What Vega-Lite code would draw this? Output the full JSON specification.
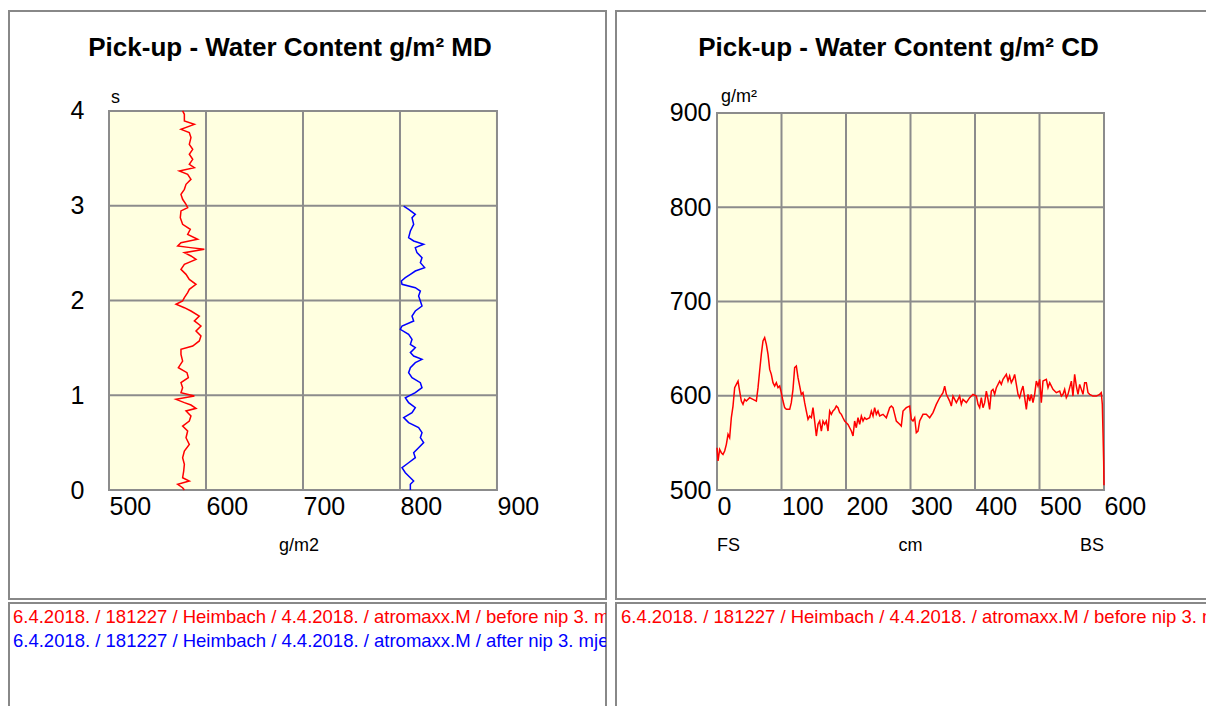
{
  "$schema": "https://vega.github.io/schema/vega-lite/v6.json",
  "padding": {"left": 8, "top": 10, "right": 0, "bottom": 0},
  "background": "white",
  "config": {
    "font": "Liberation Sans",
    "view": {"stroke": "#888888", "strokeWidth": 2, "fill": "white"},
    "axis": {"labelFont": "Liberation Sans", "labelFontSize": 25, "labelColor": "#000000", "ticks": false, "domain": false, "grid": false, "labelOverlap": false, "labelFlush": false, "labelBound": false, "zindex": 1}
  },
  "datasets": {
    "md": [
      {"series":"before","t":4.000,"gsm":575.9},{"series":"before","t":3.965,"gsm":577.7},{"series":"before","t":3.894,"gsm":577.7},{"series":"before","t":3.859,"gsm":588.0},{"series":"before","t":3.806,"gsm":574.2},{"series":"before","t":3.771,"gsm":582.8},{"series":"before","t":3.719,"gsm":584.5},{"series":"before","t":3.648,"gsm":582.8},{"series":"before","t":3.595,"gsm":586.3},{"series":"before","t":3.543,"gsm":582.8},{"series":"before","t":3.490,"gsm":586.3},{"series":"before","t":3.437,"gsm":582.8},{"series":"before","t":3.402,"gsm":588.0},{"series":"before","t":3.367,"gsm":572.5},{"series":"before","t":3.332,"gsm":581.1},{"series":"before","t":3.279,"gsm":584.5},{"series":"before","t":3.226,"gsm":579.4},{"series":"before","t":3.173,"gsm":577.7},{"series":"before","t":3.120,"gsm":574.2},{"series":"before","t":3.068,"gsm":575.9},{"series":"before","t":3.015,"gsm":579.4},{"series":"before","t":2.980,"gsm":581.1},{"series":"before","t":2.945,"gsm":574.2},{"series":"before","t":2.874,"gsm":573.5},{"series":"before","t":2.804,"gsm":575.9},{"series":"before","t":2.751,"gsm":583.8},{"series":"before","t":2.698,"gsm":581.1},{"series":"before","t":2.646,"gsm":591.4},{"series":"before","t":2.610,"gsm":574.2},{"series":"before","t":2.575,"gsm":570.8},{"series":"before","t":2.558,"gsm":583.8},{"series":"before","t":2.540,"gsm":598.3},{"series":"before","t":2.505,"gsm":577.7},{"series":"before","t":2.470,"gsm":584.5},{"series":"before","t":2.434,"gsm":589.7},{"series":"before","t":2.382,"gsm":577.7},{"series":"before","t":2.329,"gsm":574.2},{"series":"before","t":2.276,"gsm":579.4},{"series":"before","t":2.223,"gsm":582.8},{"series":"before","t":2.171,"gsm":589.7},{"series":"before","t":2.118,"gsm":582.8},{"series":"before","t":2.083,"gsm":581.1},{"series":"before","t":2.030,"gsm":577.7},{"series":"before","t":1.995,"gsm":575.9},{"series":"before","t":1.960,"gsm":569.1},{"series":"before","t":1.924,"gsm":577.7},{"series":"before","t":1.889,"gsm":584.5},{"series":"before","t":1.836,"gsm":593.1},{"series":"before","t":1.784,"gsm":588.0},{"series":"before","t":1.731,"gsm":594.8},{"series":"before","t":1.678,"gsm":589.7},{"series":"before","t":1.625,"gsm":594.8},{"series":"before","t":1.573,"gsm":593.1},{"series":"before","t":1.520,"gsm":586.3},{"series":"before","t":1.485,"gsm":574.2},{"series":"before","t":1.432,"gsm":574.2},{"series":"before","t":1.361,"gsm":575.9},{"series":"before","t":1.291,"gsm":571.5},{"series":"before","t":1.238,"gsm":580.4},{"series":"before","t":1.186,"gsm":581.8},{"series":"before","t":1.133,"gsm":574.2},{"series":"before","t":1.080,"gsm":575.9},{"series":"before","t":1.027,"gsm":574.2},{"series":"before","t":0.992,"gsm":588.0},{"series":"before","t":0.957,"gsm":569.1},{"series":"before","t":0.922,"gsm":577.7},{"series":"before","t":0.897,"gsm":584.5},{"series":"before","t":0.862,"gsm":589.7},{"series":"before","t":0.834,"gsm":579.4},{"series":"before","t":0.781,"gsm":584.5},{"series":"before","t":0.728,"gsm":582.8},{"series":"before","t":0.675,"gsm":575.9},{"series":"before","t":0.623,"gsm":581.1},{"series":"before","t":0.552,"gsm":579.4},{"series":"before","t":0.482,"gsm":582.8},{"series":"before","t":0.412,"gsm":577.7},{"series":"before","t":0.341,"gsm":575.9},{"series":"before","t":0.271,"gsm":577.7},{"series":"before","t":0.200,"gsm":577.0},{"series":"before","t":0.130,"gsm":575.9},{"series":"before","t":0.095,"gsm":582.8},{"series":"before","t":0.060,"gsm":570.8},{"series":"before","t":0.024,"gsm":575.9},{"series":"before","t":0.000,"gsm":577.7},
      {"series":"after","t":2.997,"gsm":803.8},{"series":"after","t":2.962,"gsm":808.9},{"series":"after","t":2.909,"gsm":815.8},{"series":"after","t":2.874,"gsm":812.4},{"series":"after","t":2.804,"gsm":814.1},{"series":"after","t":2.734,"gsm":810.7},{"series":"after","t":2.663,"gsm":808.9},{"series":"after","t":2.628,"gsm":814.1},{"series":"after","t":2.593,"gsm":824.4},{"series":"after","t":2.558,"gsm":815.8},{"series":"after","t":2.505,"gsm":817.5},{"series":"after","t":2.452,"gsm":822.7},{"series":"after","t":2.399,"gsm":821.0},{"series":"after","t":2.347,"gsm":825.4},{"series":"after","t":2.311,"gsm":815.8},{"series":"after","t":2.276,"gsm":810.7},{"series":"after","t":2.241,"gsm":805.5},{"series":"after","t":2.206,"gsm":801.4},{"series":"after","t":2.171,"gsm":802.1},{"series":"after","t":2.135,"gsm":815.8},{"series":"after","t":2.100,"gsm":821.0},{"series":"after","t":2.048,"gsm":819.2},{"series":"after","t":1.995,"gsm":821.0},{"series":"after","t":1.942,"gsm":822.7},{"series":"after","t":1.889,"gsm":815.8},{"series":"after","t":1.836,"gsm":812.4},{"series":"after","t":1.784,"gsm":814.1},{"series":"after","t":1.731,"gsm":802.1},{"series":"after","t":1.696,"gsm":800.3},{"series":"after","t":1.643,"gsm":808.9},{"series":"after","t":1.590,"gsm":812.4},{"series":"after","t":1.537,"gsm":810.7},{"series":"after","t":1.502,"gsm":815.8},{"series":"after","t":1.450,"gsm":810.7},{"series":"after","t":1.414,"gsm":814.1},{"series":"after","t":1.379,"gsm":822.7},{"series":"after","t":1.344,"gsm":815.8},{"series":"after","t":1.291,"gsm":810.7},{"series":"after","t":1.238,"gsm":808.9},{"series":"after","t":1.186,"gsm":812.4},{"series":"after","t":1.133,"gsm":821.0},{"series":"after","t":1.080,"gsm":822.7},{"series":"after","t":1.027,"gsm":815.8},{"series":"after","t":0.974,"gsm":805.5},{"series":"after","t":0.922,"gsm":808.9},{"series":"after","t":0.869,"gsm":815.8},{"series":"after","t":0.816,"gsm":812.4},{"series":"after","t":0.764,"gsm":803.8},{"series":"after","t":0.711,"gsm":808.9},{"series":"after","t":0.658,"gsm":819.2},{"series":"after","t":0.605,"gsm":822.7},{"series":"after","t":0.552,"gsm":821.0},{"series":"after","t":0.500,"gsm":824.4},{"series":"after","t":0.447,"gsm":819.2},{"series":"after","t":0.394,"gsm":814.1},{"series":"after","t":0.341,"gsm":815.8},{"series":"after","t":0.288,"gsm":808.9},{"series":"after","t":0.236,"gsm":802.1},{"series":"after","t":0.183,"gsm":805.5},{"series":"after","t":0.130,"gsm":810.7},{"series":"after","t":0.095,"gsm":814.1},{"series":"after","t":0.060,"gsm":810.7},{"series":"after","t":0.000,"gsm":810.7}
    ],
    "cd": [
      {"series":"before","cm":0,"gsm":544.9},{"series":"before","cm":1.6,"gsm":530.8},{"series":"before","cm":4.1,"gsm":543.1},{"series":"before","cm":6.7,"gsm":539.6},{"series":"before","cm":9.3,"gsm":537.8},{"series":"before","cm":11.9,"gsm":541.4},{"series":"before","cm":14.5,"gsm":548.5},{"series":"before","cm":17.1,"gsm":559.1},{"series":"before","cm":19.6,"gsm":555.5},{"series":"before","cm":22.2,"gsm":576.7},{"series":"before","cm":24.8,"gsm":589.1},{"series":"before","cm":27.4,"gsm":608.6},{"series":"before","cm":30.0,"gsm":612.1},{"series":"before","cm":32.6,"gsm":615.6},{"series":"before","cm":35.1,"gsm":605.0},{"series":"before","cm":37.7,"gsm":594.4},{"series":"before","cm":40.3,"gsm":590.9},{"series":"before","cm":42.9,"gsm":596.2},{"series":"before","cm":45.5,"gsm":594.4},{"series":"before","cm":50.6,"gsm":598.0},{"series":"before","cm":55.8,"gsm":596.2},{"series":"before","cm":61.0,"gsm":594.4},{"series":"before","cm":63.6,"gsm":608.6},{"series":"before","cm":66.1,"gsm":626.3},{"series":"before","cm":68.7,"gsm":643.9},{"series":"before","cm":71.3,"gsm":658.1},{"series":"before","cm":73.9,"gsm":661.6},{"series":"before","cm":76.5,"gsm":654.6},{"series":"before","cm":79.1,"gsm":643.9},{"series":"before","cm":81.7,"gsm":628.0},{"series":"before","cm":84.2,"gsm":622.7},{"series":"before","cm":86.8,"gsm":613.9},{"series":"before","cm":89.4,"gsm":610.3},{"series":"before","cm":92.0,"gsm":613.9},{"series":"before","cm":94.6,"gsm":608.6},{"series":"before","cm":97.2,"gsm":610.3},{"series":"before","cm":99.7,"gsm":603.3},{"series":"before","cm":102.3,"gsm":594.4},{"series":"before","cm":104.9,"gsm":587.4},{"series":"before","cm":107.5,"gsm":585.6},{"series":"before","cm":112.7,"gsm":585.6},{"series":"before","cm":115.2,"gsm":592.7},{"series":"before","cm":117.8,"gsm":606.8},{"series":"before","cm":120.4,"gsm":629.8},{"series":"before","cm":123.0,"gsm":631.6},{"series":"before","cm":125.6,"gsm":619.2},{"series":"before","cm":128.2,"gsm":610.3},{"series":"before","cm":130.7,"gsm":601.5},{"series":"before","cm":133.3,"gsm":603.3},{"series":"before","cm":135.9,"gsm":592.7},{"series":"before","cm":138.5,"gsm":583.8},{"series":"before","cm":141.1,"gsm":575.0},{"series":"before","cm":143.7,"gsm":578.5},{"series":"before","cm":146.3,"gsm":576.7},{"series":"before","cm":148.8,"gsm":587.4},{"series":"before","cm":151.4,"gsm":573.2},{"series":"before","cm":154.0,"gsm":557.3},{"series":"before","cm":156.6,"gsm":569.7},{"series":"before","cm":159.2,"gsm":573.2},{"series":"before","cm":161.8,"gsm":562.6},{"series":"before","cm":164.3,"gsm":573.2},{"series":"before","cm":166.9,"gsm":569.7},{"series":"before","cm":169.5,"gsm":573.2},{"series":"before","cm":172.1,"gsm":562.6},{"series":"before","cm":174.7,"gsm":583.8},{"series":"before","cm":177.3,"gsm":580.3},{"series":"before","cm":179.8,"gsm":583.8},{"series":"before","cm":182.4,"gsm":585.6},{"series":"before","cm":185.0,"gsm":589.1},{"series":"before","cm":187.6,"gsm":587.4},{"series":"before","cm":190.2,"gsm":582.1},{"series":"before","cm":192.8,"gsm":580.3},{"series":"before","cm":195.3,"gsm":576.7},{"series":"before","cm":197.9,"gsm":573.2},{"series":"before","cm":200.5,"gsm":571.4},{"series":"before","cm":203.1,"gsm":569.7},{"series":"before","cm":205.7,"gsm":566.1},{"series":"before","cm":208.3,"gsm":562.6},{"series":"before","cm":210.9,"gsm":557.3},{"series":"before","cm":213.4,"gsm":573.2},{"series":"before","cm":216.0,"gsm":566.1},{"series":"before","cm":218.6,"gsm":576.7},{"series":"before","cm":221.2,"gsm":569.7},{"series":"before","cm":223.8,"gsm":578.5},{"series":"before","cm":226.4,"gsm":573.2},{"series":"before","cm":228.9,"gsm":576.7},{"series":"before","cm":231.5,"gsm":575.0},{"series":"before","cm":236.7,"gsm":576.7},{"series":"before","cm":239.3,"gsm":583.8},{"series":"before","cm":241.9,"gsm":578.5},{"series":"before","cm":244.4,"gsm":587.4},{"series":"before","cm":247.0,"gsm":580.3},{"series":"before","cm":249.6,"gsm":583.8},{"series":"before","cm":252.2,"gsm":578.5},{"series":"before","cm":257.4,"gsm":580.3},{"series":"before","cm":262.5,"gsm":576.7},{"series":"before","cm":267.7,"gsm":587.4},{"series":"before","cm":270.3,"gsm":589.1},{"series":"before","cm":272.9,"gsm":587.4},{"series":"before","cm":275.5,"gsm":580.3},{"series":"before","cm":278.0,"gsm":573.2},{"series":"before","cm":283.2,"gsm":569.7},{"series":"before","cm":285.7,"gsm":567.9},{"series":"before","cm":288.4,"gsm":583.8},{"series":"before","cm":293.5,"gsm":587.4},{"series":"before","cm":298.7,"gsm":589.1},{"series":"before","cm":301.3,"gsm":575.0},{"series":"before","cm":303.9,"gsm":573.2},{"series":"before","cm":306.5,"gsm":576.7},{"series":"before","cm":309.0,"gsm":560.8},{"series":"before","cm":311.6,"gsm":562.6},{"series":"before","cm":314.2,"gsm":573.2},{"series":"before","cm":319.4,"gsm":580.3},{"series":"before","cm":324.5,"gsm":580.3},{"series":"before","cm":329.7,"gsm":576.7},{"series":"before","cm":334.9,"gsm":582.1},{"series":"before","cm":340.0,"gsm":590.9},{"series":"before","cm":345.2,"gsm":597.9},{"series":"before","cm":350.4,"gsm":603.3},{"series":"before","cm":353.0,"gsm":610.3},{"series":"before","cm":355.6,"gsm":601.5},{"series":"before","cm":360.7,"gsm":594.4},{"series":"before","cm":363.3,"gsm":589.1},{"series":"before","cm":365.9,"gsm":599.7},{"series":"before","cm":371.1,"gsm":592.7},{"series":"before","cm":376.2,"gsm":599.7},{"series":"before","cm":378.8,"gsm":590.9},{"series":"before","cm":381.4,"gsm":596.2},{"series":"before","cm":386.6,"gsm":592.7},{"series":"before","cm":391.7,"gsm":598.0},{"series":"before","cm":396.9,"gsm":601.5},{"series":"before","cm":402.1,"gsm":599.7},{"series":"before","cm":404.7,"gsm":590.9},{"series":"before","cm":407.2,"gsm":587.4},{"series":"before","cm":409.8,"gsm":598.0},{"series":"before","cm":412.4,"gsm":587.4},{"series":"before","cm":415.0,"gsm":592.7},{"series":"before","cm":417.6,"gsm":605.0},{"series":"before","cm":420.2,"gsm":596.2},{"series":"before","cm":422.7,"gsm":585.6},{"series":"before","cm":425.3,"gsm":605.0},{"series":"before","cm":427.9,"gsm":606.8},{"series":"before","cm":430.5,"gsm":601.5},{"series":"before","cm":433.1,"gsm":608.6},{"series":"before","cm":438.2,"gsm":615.6},{"series":"before","cm":440.8,"gsm":612.1},{"series":"before","cm":443.4,"gsm":617.4},{"series":"before","cm":448.6,"gsm":622.7},{"series":"before","cm":451.2,"gsm":615.6},{"series":"before","cm":453.7,"gsm":620.9},{"series":"before","cm":456.3,"gsm":613.9},{"series":"before","cm":458.9,"gsm":617.4},{"series":"before","cm":461.5,"gsm":622.7},{"series":"before","cm":464.1,"gsm":612.1},{"series":"before","cm":466.7,"gsm":601.5},{"series":"before","cm":469.2,"gsm":598.0},{"series":"before","cm":471.8,"gsm":605.0},{"series":"before","cm":474.4,"gsm":610.3},{"series":"before","cm":477.0,"gsm":598.0},{"series":"before","cm":479.6,"gsm":585.6},{"series":"before","cm":482.2,"gsm":601.5},{"series":"before","cm":484.8,"gsm":594.4},{"series":"before","cm":487.3,"gsm":601.5},{"series":"before","cm":489.9,"gsm":592.7},{"series":"before","cm":492.5,"gsm":601.5},{"series":"before","cm":495.1,"gsm":615.6},{"series":"before","cm":497.7,"gsm":610.3},{"series":"before","cm":500.3,"gsm":617.4},{"series":"before","cm":502.8,"gsm":592.7},{"series":"before","cm":505.4,"gsm":615.6},{"series":"before","cm":510.6,"gsm":617.4},{"series":"before","cm":513.2,"gsm":608.6},{"series":"before","cm":515.8,"gsm":613.9},{"series":"before","cm":520.9,"gsm":606.8},{"series":"before","cm":526.1,"gsm":603.3},{"series":"before","cm":531.3,"gsm":605.0},{"series":"before","cm":533.9,"gsm":599.7},{"series":"before","cm":536.4,"gsm":601.5},{"series":"before","cm":539.0,"gsm":606.8},{"series":"before","cm":541.6,"gsm":598.0},{"series":"before","cm":544.2,"gsm":601.5},{"series":"before","cm":546.8,"gsm":608.6},{"series":"before","cm":549.4,"gsm":615.6},{"series":"before","cm":551.9,"gsm":599.7},{"series":"before","cm":554.5,"gsm":622.7},{"series":"before","cm":557.1,"gsm":610.3},{"series":"before","cm":559.7,"gsm":601.5},{"series":"before","cm":562.3,"gsm":612.1},{"series":"before","cm":564.9,"gsm":606.8},{"series":"before","cm":567.4,"gsm":601.5},{"series":"before","cm":570.0,"gsm":613.9},{"series":"before","cm":572.6,"gsm":613.9},{"series":"before","cm":575.2,"gsm":603.3},{"series":"before","cm":577.8,"gsm":601.5},{"series":"before","cm":582.9,"gsm":599.7},{"series":"before","cm":588.1,"gsm":599.7},{"series":"before","cm":593.3,"gsm":601.5},{"series":"before","cm":595.8,"gsm":603.3},{"series":"before","cm":597.4,"gsm":590.9},{"series":"before","cm":598.5,"gsm":560.0},{"series":"before","cm":599.5,"gsm":530.0},{"series":"before","cm":600.0,"gsm":505.0}
    ]
  },
  "spacing": 8,
  "hconcat": [
    {
      "spacing": 2,
      "vconcat": [
        {
          "width": 597,
          "height": 588,
          "layer": [
            {
              "data": {"values": [{}]},
              "mark": {"type": "rect", "fill": "#FFFFE0", "stroke": "#8c8c8c", "strokeWidth": 2},
              "encoding": {
                "x": {"datum": 500, "type": "quantitative", "scale": {"domain": [396.9, 1012.4], "nice": false, "zero": false}, "axis": {"values": [500, 600, 700, 800, 900], "orient": "bottom", "offset": -109, "labelPadding": 4, "labelAlign": "left", "labelDx": 4, "title": null}},
                "x2": {"datum": 900},
                "y": {"datum": 0, "type": "quantitative", "scale": {"domain": [-1.150, 5.055], "nice": false, "zero": false}, "axis": {"values": [0, 1, 2, 3, 4], "orient": "left", "offset": -100, "labelPadding": 25, "labelDy": 5, "title": null}},
                "y2": {"datum": 4}
              }
            },
            {
              "data": {"values": [{"v": 600}, {"v": 700}, {"v": 800}]},
              "mark": {"type": "rule", "stroke": "#8c8c8c", "strokeWidth": 2},
              "encoding": {
                "x": {"field": "v", "type": "quantitative", "scale": {"domain": [396.9, 1012.4], "nice": false, "zero": false}, "axis": {"values": [500, 600, 700, 800, 900], "orient": "bottom", "offset": -109, "labelPadding": 4, "labelAlign": "left", "labelDx": 4, "title": null}},
                "y": {"datum": 0, "type": "quantitative", "scale": {"domain": [-1.150, 5.055], "nice": false, "zero": false}, "axis": {"values": [0, 1, 2, 3, 4], "orient": "left", "offset": -100, "labelPadding": 25, "labelDy": 5, "title": null}},
                "y2": {"datum": 4}
              }
            },
            {
              "data": {"values": [{"v": 1}, {"v": 2}, {"v": 3}]},
              "mark": {"type": "rule", "stroke": "#8c8c8c", "strokeWidth": 2},
              "encoding": {
                "y": {"field": "v", "type": "quantitative", "scale": {"domain": [-1.150, 5.055], "nice": false, "zero": false}, "axis": {"values": [0, 1, 2, 3, 4], "orient": "left", "offset": -100, "labelPadding": 25, "labelDy": 5, "title": null}},
                "x": {"datum": 500, "type": "quantitative", "scale": {"domain": [396.9, 1012.4], "nice": false, "zero": false}, "axis": {"values": [500, 600, 700, 800, 900], "orient": "bottom", "offset": -109, "labelPadding": 4, "labelAlign": "left", "labelDx": 4, "title": null}},
                "x2": {"datum": 900}
              }
            },
            {
              "data": {"name": "md"},
              "mark": {"type": "line", "strokeWidth": 1.5},
              "encoding": {
                "x": {"field": "gsm", "type": "quantitative", "scale": {"domain": [396.9, 1012.4], "nice": false, "zero": false}, "axis": {"values": [500, 600, 700, 800, 900], "orient": "bottom", "offset": -109, "labelPadding": 4, "labelAlign": "left", "labelDx": 4, "title": null}},
                "y": {"field": "t", "type": "quantitative", "scale": {"domain": [-1.150, 5.055], "nice": false, "zero": false}, "axis": {"values": [0, 1, 2, 3, 4], "orient": "left", "offset": -100, "labelPadding": 25, "labelDy": 5, "title": null}},
                "order": {"field": "t", "type": "quantitative"},
                "color": {"field": "series", "type": "nominal", "scale": {"domain": ["before", "after"], "range": ["#ff0000", "#0000ff"]}, "legend": null}
              }
            },
            {
              "data": {"values": [{}]},
              "mark": {"type": "text", "text": "Pick-up - Water Content g/m² MD", "fontSize": 26, "fontWeight": "bold", "color": "#000000", "align": "center", "baseline": "alphabetic", "dx": -13, "dy": -55},
              "encoding": {
                "x": {"datum": 700, "type": "quantitative", "scale": {"domain": [396.9, 1012.4], "nice": false, "zero": false}, "axis": {"values": [500, 600, 700, 800, 900], "orient": "bottom", "offset": -109, "labelPadding": 4, "labelAlign": "left", "labelDx": 4, "title": null}},
                "y": {"datum": 4, "type": "quantitative", "scale": {"domain": [-1.150, 5.055], "nice": false, "zero": false}, "axis": {"values": [0, 1, 2, 3, 4], "orient": "left", "offset": -100, "labelPadding": 25, "labelDy": 5, "title": null}}
              }
            },
            {
              "data": {"values": [{}]},
              "mark": {"type": "text", "text": "s", "fontSize": 18, "color": "#000000", "align": "left", "baseline": "alphabetic", "dx": 2, "dy": -8},
              "encoding": {
                "x": {"datum": 500, "type": "quantitative", "scale": {"domain": [396.9, 1012.4], "nice": false, "zero": false}, "axis": {"values": [500, 600, 700, 800, 900], "orient": "bottom", "offset": -109, "labelPadding": 4, "labelAlign": "left", "labelDx": 4, "title": null}},
                "y": {"datum": 4, "type": "quantitative", "scale": {"domain": [-1.150, 5.055], "nice": false, "zero": false}, "axis": {"values": [0, 1, 2, 3, 4], "orient": "left", "offset": -100, "labelPadding": 25, "labelDy": 5, "title": null}}
              }
            },
            {
              "data": {"values": [{}]},
              "mark": {"type": "text", "text": "g/m2", "fontSize": 18, "color": "#000000", "align": "center", "baseline": "middle", "dx": -4, "dy": 56},
              "encoding": {
                "x": {"datum": 700, "type": "quantitative", "scale": {"domain": [396.9, 1012.4], "nice": false, "zero": false}, "axis": {"values": [500, 600, 700, 800, 900], "orient": "bottom", "offset": -109, "labelPadding": 4, "labelAlign": "left", "labelDx": 4, "title": null}},
                "y": {"datum": 0, "type": "quantitative", "scale": {"domain": [-1.150, 5.055], "nice": false, "zero": false}, "axis": {"values": [0, 1, 2, 3, 4], "orient": "left", "offset": -100, "labelPadding": 25, "labelDy": 5, "title": null}}
              }
            }
          ]
        },
        {
          "width": 597,
          "height": 110,
          "data": {"values": [
            {"line": 1, "series": "before", "label": "6.4.2018. / 181227 / Heimbach / 4.4.2018. / atromaxx.M / before nip 3. mjerenje"},
            {"line": 2, "series": "after", "label": "6.4.2018. / 181227 / Heimbach / 4.4.2018. / atromaxx.M / after nip 3. mjerenje"}
          ]},
          "mark": {"type": "text", "align": "left", "baseline": "middle", "fontSize": 18.5, "dx": 4, "clip": true},
          "encoding": {
            "x": {"datum": 0, "type": "quantitative", "scale": {"domain": [0, 1]}, "axis": null},
            "y": {"field": "line", "type": "quantitative", "scale": {"domain": [0.4167, 5], "reverse": true, "nice": false, "zero": false}, "axis": null},
            "text": {"field": "label"},
            "color": {"field": "series", "type": "nominal", "scale": {"domain": ["before", "after"], "range": ["#ff0000", "#0000ff"]}, "legend": null}
          }
        }
      ]
    },
    {
      "spacing": 2,
      "vconcat": [
        {
          "width": 597,
          "height": 588,
          "layer": [
            {
              "data": {"values": [{}]},
              "mark": {"type": "rect", "fill": "#FFFFE0", "stroke": "#8c8c8c", "strokeWidth": 2},
              "encoding": {
                "x": {"datum": 0, "type": "quantitative", "scale": {"domain": [-156.6, 769], "nice": false, "zero": false}, "axis": {"values": [0, 100, 200, 300, 400, 500, 600], "orient": "bottom", "offset": -109, "labelPadding": 4, "labelAlign": "left", "labelDx": 5, "title": null}},
                "x2": {"datum": 600},
                "y": {"datum": 500, "type": "quantitative", "scale": {"domain": [384.4, 1008.2], "nice": false, "zero": false}, "axis": {"values": [500, 600, 700, 800, 900], "orient": "left", "offset": -101, "labelPadding": 6, "labelDy": 3, "title": null}},
                "y2": {"datum": 900}
              }
            },
            {
              "data": {"values": [{"v": 100}, {"v": 200}, {"v": 300}, {"v": 400}, {"v": 500}]},
              "mark": {"type": "rule", "stroke": "#8c8c8c", "strokeWidth": 2},
              "encoding": {
                "x": {"field": "v", "type": "quantitative", "scale": {"domain": [-156.6, 769], "nice": false, "zero": false}, "axis": {"values": [0, 100, 200, 300, 400, 500, 600], "orient": "bottom", "offset": -109, "labelPadding": 4, "labelAlign": "left", "labelDx": 5, "title": null}},
                "y": {"datum": 500, "type": "quantitative", "scale": {"domain": [384.4, 1008.2], "nice": false, "zero": false}, "axis": {"values": [500, 600, 700, 800, 900], "orient": "left", "offset": -101, "labelPadding": 6, "labelDy": 3, "title": null}},
                "y2": {"datum": 900}
              }
            },
            {
              "data": {"values": [{"v": 600}, {"v": 700}, {"v": 800}]},
              "mark": {"type": "rule", "stroke": "#8c8c8c", "strokeWidth": 2},
              "encoding": {
                "y": {"field": "v", "type": "quantitative", "scale": {"domain": [384.4, 1008.2], "nice": false, "zero": false}, "axis": {"values": [500, 600, 700, 800, 900], "orient": "left", "offset": -101, "labelPadding": 6, "labelDy": 3, "title": null}},
                "x": {"datum": 0, "type": "quantitative", "scale": {"domain": [-156.6, 769], "nice": false, "zero": false}, "axis": {"values": [0, 100, 200, 300, 400, 500, 600], "orient": "bottom", "offset": -109, "labelPadding": 4, "labelAlign": "left", "labelDx": 5, "title": null}},
                "x2": {"datum": 600}
              }
            },
            {
              "data": {"name": "cd"},
              "mark": {"type": "line", "strokeWidth": 1.5},
              "encoding": {
                "x": {"field": "cm", "type": "quantitative", "scale": {"domain": [-156.6, 769], "nice": false, "zero": false}, "axis": {"values": [0, 100, 200, 300, 400, 500, 600], "orient": "bottom", "offset": -109, "labelPadding": 4, "labelAlign": "left", "labelDx": 5, "title": null}},
                "y": {"field": "gsm", "type": "quantitative", "scale": {"domain": [384.4, 1008.2], "nice": false, "zero": false}, "axis": {"values": [500, 600, 700, 800, 900], "orient": "left", "offset": -101, "labelPadding": 6, "labelDy": 3, "title": null}},
                "order": {"field": "cm", "type": "quantitative"},
                "color": {"field": "series", "type": "nominal", "scale": {"domain": ["before", "after"], "range": ["#ff0000", "#0000ff"]}, "legend": null}
              }
            },
            {
              "data": {"values": [{}]},
              "mark": {"type": "text", "text": "Pick-up - Water Content g/m² CD", "fontSize": 26, "fontWeight": "bold", "color": "#000000", "align": "center", "baseline": "alphabetic", "dx": -12, "dy": -57},
              "encoding": {
                "x": {"datum": 300, "type": "quantitative", "scale": {"domain": [-156.6, 769], "nice": false, "zero": false}, "axis": {"values": [0, 100, 200, 300, 400, 500, 600], "orient": "bottom", "offset": -109, "labelPadding": 4, "labelAlign": "left", "labelDx": 5, "title": null}},
                "y": {"datum": 900, "type": "quantitative", "scale": {"domain": [384.4, 1008.2], "nice": false, "zero": false}, "axis": {"values": [500, 600, 700, 800, 900], "orient": "left", "offset": -101, "labelPadding": 6, "labelDy": 3, "title": null}}
              }
            },
            {
              "data": {"values": [{}]},
              "mark": {"type": "text", "text": "g/m²", "fontSize": 18, "color": "#000000", "align": "left", "baseline": "alphabetic", "dx": 4, "dy": -11},
              "encoding": {
                "x": {"datum": 0, "type": "quantitative", "scale": {"domain": [-156.6, 769], "nice": false, "zero": false}, "axis": {"values": [0, 100, 200, 300, 400, 500, 600], "orient": "bottom", "offset": -109, "labelPadding": 4, "labelAlign": "left", "labelDx": 5, "title": null}},
                "y": {"datum": 900, "type": "quantitative", "scale": {"domain": [384.4, 1008.2], "nice": false, "zero": false}, "axis": {"values": [500, 600, 700, 800, 900], "orient": "left", "offset": -101, "labelPadding": 6, "labelDy": 3, "title": null}}
              }
            },
            {
              "data": {"values": [{"pos": 0, "lab": "FS", "al": "left"}, {"pos": 300, "lab": "cm", "al": "center"}, {"pos": 600, "lab": "BS", "al": "right"}]},
              "mark": {"type": "text", "fontSize": 18, "color": "#000000", "baseline": "middle", "dy": 56, "align": {"expr": "datum.al"}},
              "encoding": {
                "x": {"field": "pos", "type": "quantitative", "scale": {"domain": [-156.6, 769], "nice": false, "zero": false}, "axis": {"values": [0, 100, 200, 300, 400, 500, 600], "orient": "bottom", "offset": -109, "labelPadding": 4, "labelAlign": "left", "labelDx": 5, "title": null}},
                "y": {"datum": 500, "type": "quantitative", "scale": {"domain": [384.4, 1008.2], "nice": false, "zero": false}, "axis": {"values": [500, 600, 700, 800, 900], "orient": "left", "offset": -101, "labelPadding": 6, "labelDy": 3, "title": null}},
                "text": {"field": "lab"}
              }
            }
          ]
        },
        {
          "width": 597,
          "height": 110,
          "data": {"values": [
            {"line": 1, "series": "before", "label": "6.4.2018. / 181227 / Heimbach / 4.4.2018. / atromaxx.M / before nip 3. mjerenje"}
          ]},
          "mark": {"type": "text", "align": "left", "baseline": "middle", "fontSize": 18.5, "dx": 5, "clip": true},
          "encoding": {
            "x": {"datum": 0, "type": "quantitative", "scale": {"domain": [0, 1]}, "axis": null},
            "y": {"field": "line", "type": "quantitative", "scale": {"domain": [0.4167, 5], "reverse": true, "nice": false, "zero": false}, "axis": null},
            "text": {"field": "label"},
            "color": {"field": "series", "type": "nominal", "scale": {"domain": ["before", "after"], "range": ["#ff0000", "#0000ff"]}, "legend": null}
          }
        }
      ]
    }
  ]
}
